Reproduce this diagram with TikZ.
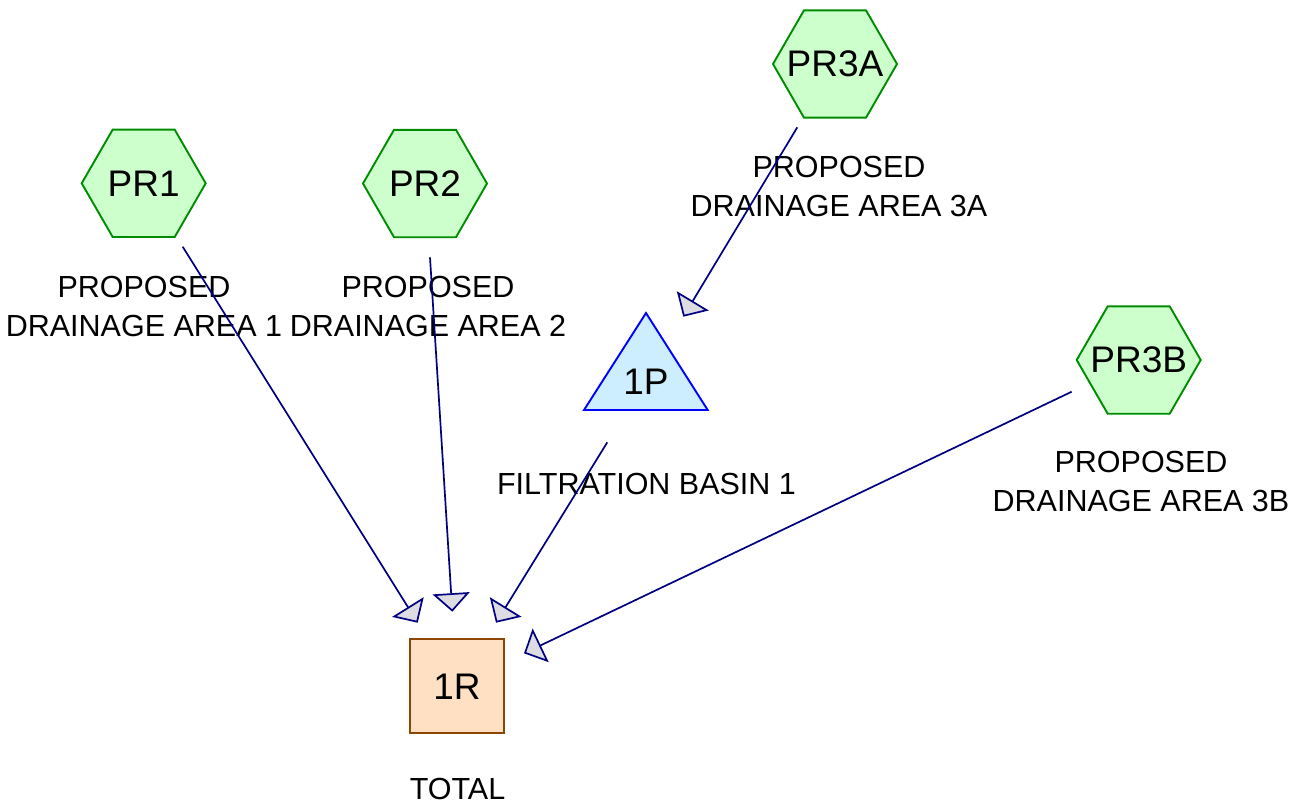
\documentclass[tikz,border=0pt]{standalone}
\usepackage{fontspec}
\setmainfont{Liberation Sans}
\usetikzlibrary{shapes.geometric,arrows.meta}
\definecolor{hexfill}{RGB}{204,255,204}
\definecolor{hexline}{RGB}{0,140,0}
\definecolor{trifill}{RGB}{204,238,255}
\definecolor{triline}{RGB}{0,0,255}
\definecolor{sqfill}{RGB}{255,224,194}
\definecolor{sqline}{RGB}{140,70,0}
\definecolor{conncol}{RGB}{0,0,128}
\definecolor{tipfill}{RGB}{220,220,226}
\newcommand{\hextext}[1]{\makebox[0pt][c]{#1}}
\tikzset{
  hexnode/.style={draw=hexline, fill=hexfill, line width=1.9pt, regular polygon, regular polygon sides=6, minimum size=124pt, inner sep=0pt, font=\fontsize{37}{40}\selectfont},
  trishape/.style={draw=triline, fill=trifill, line width=1.9pt, line join=miter},
  sqnode/.style={draw=sqline, fill=sqfill, line width=1.9pt, minimum size=94pt, inner sep=0pt, font=\fontsize{37}{40}\selectfont},
  nodetext/.style={inner sep=0pt, font=\fontsize{37}{40}\selectfont},
  lbl/.style={inner sep=0pt, align=center, font=\fontsize{30.5}{39}\selectfont},
  conn/.style={draw=conncol, line width=1.7pt, -{Triangle[length=18.5pt,width=37pt,fill=tipfill]}}
}
\begin{document}
\begin{tikzpicture}[x=1pt,y=-1pt]
\useasboundingbox (0,0) rectangle (1307,807);
% nodes
\node[hexnode] (PR1) at (143.7,183.3) {\hextext{PR1}};
\node[hexnode] (PR2) at (425,183.5) {\hextext{PR2}};
\node[hexnode] (PR3A) at (835,64) {\hextext{PR3A}};
\node[hexnode] (PR3B) at (1138.7,360) {\hextext{PR3B}};
\filldraw[trishape] (584,410) -- (646,313) -- (707.7,410) -- cycle;
\node[nodetext] (1P) at (646,382) {1P};
\node[sqnode] (1R) at (457,686.3) {1R};
% labels
\node[lbl] (lPR1) at (144,306.5) {PROPOSED\\DRAINAGE AREA 1};
\node[lbl] (lPR2) at (428,306.5) {PROPOSED\\DRAINAGE AREA 2};
\node[lbl] (lPR3A) at (839,186) {PROPOSED\\DRAINAGE AREA 3A};
\node[lbl] (lPR3B) at (1141,481.5) {PROPOSED\\DRAINAGE AREA 3B};
\node[lbl] (l1P) at (646.5,484) {FILTRATION BASIN 1};
\node[lbl] (l1R) at (457.5,789) {TOTAL};
% connector ends
\coordinate (s1) at (182.7,246.7);
\coordinate (t1) at (417.7,622.7);
\coordinate (s2) at (430,257.3);
\coordinate (t2) at (452.3,611.7);
\coordinate (s3) at (607.3,442.3);
\coordinate (t3) at (496,622.7);
\coordinate (s4) at (1071.7,391.7);
\coordinate (t4) at (524,653.3);
\coordinate (s5) at (797.3,127.3);
\coordinate (t5) at (683.3,316.7);
% connectors
\draw[conn] (s1) -- (t1);
\draw[conn] (s2) -- (t2);
\draw[conn] (s3) -- (t3);
\draw[conn] (s4) -- (t4);
\draw[conn] (s5) -- (t5);
\end{tikzpicture}
\end{document}
